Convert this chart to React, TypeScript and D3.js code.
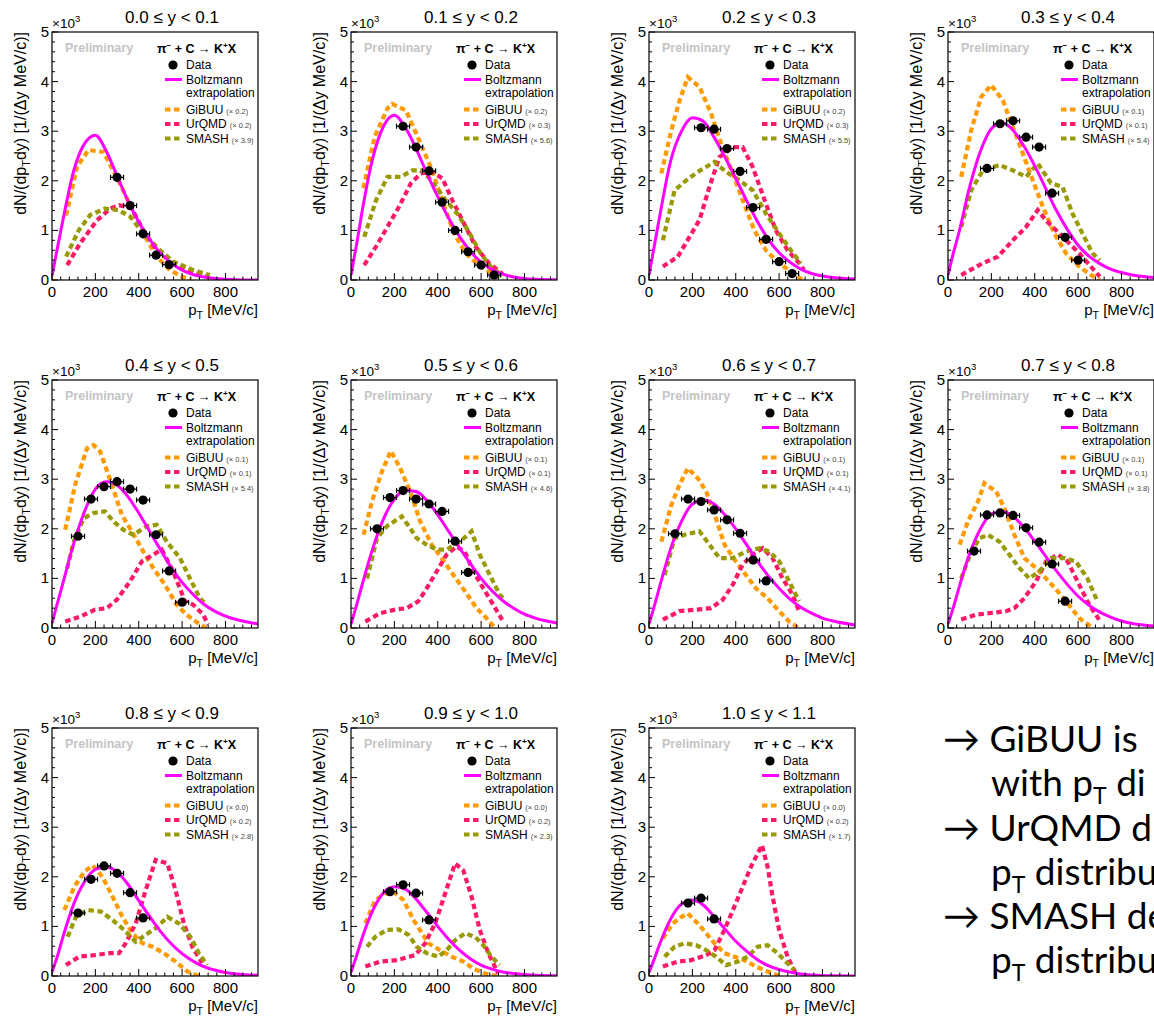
import React from "react";
import * as d3 from "d3";

// ---------------- data ----------------
const RAPIDITY_LABELS = [
  "0.0 ≤ y < 0.1", "0.1 ≤ y < 0.2", "0.2 ≤ y < 0.3", "0.3 ≤ y < 0.4",
  "0.4 ≤ y < 0.5", "0.5 ≤ y < 0.6", "0.6 ≤ y < 0.7", "0.7 ≤ y < 0.8",
  "0.8 ≤ y < 0.9", "0.9 ≤ y < 1.0", "1.0 ≤ y < 1.1",
];
const GIBUU_SCALE = ["0.2", "0.2", "0.2", "0.1", "0.1", "0.1", "0.1", "0.1", "0.0", "0.0", "0.0"];
const URQMD_SCALE = ["0.2", "0.3", "0.3", "0.1", "0.1", "0.1", "0.1", "0.1", "0.2", "0.2", "0.2"];
const SMASH_SCALE = ["3.9", "5.6", "5.5", "5.4", "5.4", "4.6", "4.1", "3.8", "2.8", "2.3", "1.7"];

const X_TICKS = [0, 200, 400, 600, 800];
const Y_TICKS = [0, 1, 2, 3, 4, 5];

const DATA_PT = [
  [300, 360, 420, 480, 540],
  [240, 300, 360, 420, 480, 540, 600, 660],
  [240, 300, 360, 420, 480, 540, 600, 660],
  [180, 240, 300, 360, 420, 480, 540, 600],
  [120, 180, 240, 300, 360, 420, 480, 540, 600],
  [120, 180, 240, 300, 360, 420, 480, 540],
  [120, 180, 240, 300, 360, 420, 480, 540],
  [120, 180, 240, 300, 360, 420, 480, 540],
  [120, 180, 240, 300, 360, 420],
  [180, 240, 300, 360],
  [180, 240, 300],
];
const DATA_VAL = [
  [2.07, 1.5, 0.93, 0.5, 0.31],
  [3.1, 2.68, 2.2, 1.57, 1.0, 0.57, 0.3, 0.1],
  [3.07, 3.04, 2.65, 2.19, 1.46, 0.82, 0.37, 0.13],
  [2.25, 3.15, 3.21, 2.88, 2.68, 1.75, 0.86, 0.4],
  [1.85, 2.6, 2.85, 2.95, 2.8, 2.58, 1.88, 1.15, 0.52],
  [2.0, 2.63, 2.77, 2.6, 2.5, 2.35, 1.75, 1.12],
  [1.9, 2.6, 2.55, 2.38, 2.18, 1.91, 1.37, 0.95],
  [1.55, 2.28, 2.32, 2.27, 2.02, 1.73, 1.29, 0.54],
  [1.27, 1.95, 2.22, 2.07, 1.68, 1.17],
  [1.7, 1.84, 1.67, 1.13],
  [1.47, 1.57, 1.15],
];

const BOLTZ_PT = [0, 25, 50, 100, 150, 200, 250, 300, 350, 400, 450, 500, 550, 600, 650, 700, 750, 800, 850, 950];
const BOLTZ_VAL = [
  [0.08, 0.65, 1.2, 2.2, 2.75, 2.92, 2.6, 2.1, 1.6, 1.17, 0.82, 0.54, 0.34, 0.2, 0.11, 0.06, 0.03, 0.015, 0.007, 0.002],
  [0.1, 0.7, 1.35, 2.45, 3.1, 3.32, 3.08, 2.65, 2.15, 1.68, 1.25, 0.88, 0.58, 0.36, 0.21, 0.12, 0.06, 0.03, 0.015, 0.004],
  [0.1, 0.7, 1.3, 2.4, 3.0, 3.27, 3.2, 2.88, 2.48, 2.05, 1.6, 1.18, 0.82, 0.55, 0.36, 0.22, 0.13, 0.08, 0.05, 0.02],
  [0.1, 0.55, 0.95, 1.88, 2.6, 3.05, 3.17, 3.02, 2.7, 2.3, 1.85, 1.4, 1.02, 0.7, 0.48, 0.33, 0.22, 0.15, 0.1, 0.05],
  [0.1, 0.5, 0.9, 1.7, 2.35, 2.8, 2.95, 2.88, 2.65, 2.32, 1.95, 1.58, 1.22, 0.92, 0.68, 0.48, 0.34, 0.24, 0.17, 0.08],
  [0.08, 0.45, 0.85, 1.6, 2.2, 2.6, 2.77, 2.75, 2.57, 2.28, 1.95, 1.62, 1.3, 1.0, 0.75, 0.55, 0.4, 0.28, 0.2, 0.1],
  [0.08, 0.45, 0.85, 1.6, 2.15, 2.5, 2.58, 2.5, 2.28, 2.0, 1.68, 1.35, 1.05, 0.8, 0.58, 0.42, 0.3, 0.2, 0.14, 0.06],
  [0.08, 0.42, 0.8, 1.5, 2.0, 2.3, 2.35, 2.25, 2.03, 1.75, 1.45, 1.15, 0.88, 0.64, 0.46, 0.32, 0.22, 0.14, 0.09, 0.04],
  [0.08, 0.4, 0.78, 1.45, 1.9, 2.15, 2.2, 2.1, 1.85, 1.52, 1.2, 0.9, 0.65, 0.45, 0.3, 0.19, 0.12, 0.07, 0.04, 0.015],
  [0.08, 0.4, 0.75, 1.32, 1.68, 1.8, 1.75, 1.55, 1.28, 1.0, 0.74, 0.52, 0.35, 0.22, 0.14, 0.08, 0.05, 0.03, 0.015, 0.005],
  [0.07, 0.35, 0.65, 1.15, 1.45, 1.53, 1.43, 1.2, 0.95, 0.7, 0.5, 0.33, 0.21, 0.13, 0.08, 0.04, 0.02, 0.01, 0.005, 0.002],
];

const GIBUU_CURVES = [
  [[65, 1.3], [115, 2.28], [168, 2.62], [237, 2.58], [306, 2.01], [360, 1.51], [421, 0.94], [483, 0.47], [544, 0.2], [597, 0.07], [640, 0.01]],
  [[57, 1.85], [110, 2.9], [168, 3.46], [190, 3.55], [253, 3.42], [314, 2.82], [375, 2.2], [421, 1.6], [475, 0.94], [529, 0.54], [597, 0.27], [666, 0.1], [700, 0]],
  [[57, 2.15], [103, 3.02], [141, 3.62], [179, 4.09], [233, 3.89], [286, 3.36], [332, 2.75], [386, 2.15], [432, 1.61], [486, 1.0], [539, 0.6], [600, 0.34], [654, 0.17], [708, 0]],
  [[61, 2.08], [107, 3.02], [153, 3.69], [199, 3.93], [253, 3.62], [299, 3.09], [345, 2.55], [391, 2.01], [437, 1.48], [490, 0.94], [544, 0.54], [605, 0.27], [659, 0.1], [700, 0]],
  [[61, 1.98], [107, 2.89], [161, 3.62], [191, 3.69], [222, 3.56], [276, 2.89], [322, 2.28], [368, 1.95], [421, 1.54], [467, 1.21], [521, 0.87], [575, 0.47], [620, 0.27], [682, 0.07], [712, 0]],
  [[58, 1.88], [97, 2.55], [142, 3.15], [184, 3.57], [227, 3.22], [273, 2.75], [319, 2.15], [372, 1.68], [418, 1.41], [472, 1.07], [526, 0.74], [579, 0.4], [625, 0.2], [660, 0.02]],
  [[57, 1.74], [103, 2.48], [141, 2.89], [179, 3.22], [225, 3.02], [264, 2.75], [309, 2.21], [348, 1.68], [401, 1.34], [447, 1.07], [493, 0.8], [547, 0.6], [600, 0.34], [646, 0.13], [692, 0]],
  [[54, 1.68], [92, 2.15], [138, 2.55], [168, 2.92], [222, 2.75], [260, 2.42], [306, 1.88], [352, 1.41], [406, 1.21], [452, 1.0], [506, 0.74], [552, 0.5], [605, 0.2], [666, 0.01]],
  [[57, 1.33], [103, 1.8], [149, 2.1], [187, 2.23], [233, 2.0], [279, 1.6], [325, 1.19], [371, 0.86], [417, 0.66], [463, 0.59], [516, 0.46], [570, 0.29], [624, 0.09], [677, 0]],
  [[66, 1.06], [112, 1.53], [158, 1.66], [196, 1.7], [242, 1.53], [288, 1.13], [357, 0.66], [411, 0.52], [464, 0.39], [518, 0.29], [564, 0.15], [617, 0.05], [671, 0]],
  [[64, 0.76], [110, 1.06], [149, 1.19], [179, 1.26], [225, 1.06], [264, 0.86], [302, 0.66], [348, 0.46], [394, 0.39], [440, 0.32], [493, 0.19], [547, 0.09], [600, 0]],
];
const URQMD_CURVES = [
  [[70, 0.3], [130, 0.74], [207, 1.2], [268, 1.44], [310, 1.51], [368, 1.44], [421, 1.0], [483, 0.6], [544, 0.4], [620, 0.2], [712, 0.07]],
  [[61, 0.3], [115, 0.67], [168, 1.07], [222, 1.48], [276, 1.95], [322, 2.15], [375, 2.18], [421, 2.05], [467, 1.61], [529, 1.07], [575, 0.67], [636, 0.34], [700, 0.12]],
  [[64, 0.27], [133, 0.47], [187, 0.87], [233, 1.21], [279, 1.88], [325, 2.48], [386, 2.68], [432, 2.68], [478, 2.28], [539, 1.54], [585, 1.0], [639, 0.6], [692, 0.34], [715, 0.2]],
  [[61, 0.1], [161, 0.34], [230, 0.47], [299, 0.8], [360, 1.07], [414, 1.41], [452, 1.2], [513, 0.94], [559, 0.74], [605, 0.54], [659, 0.27], [700, 0.07]],
  [[61, 0.13], [130, 0.23], [199, 0.37], [253, 0.4], [299, 0.57], [360, 0.94], [414, 1.34], [467, 1.48], [506, 1.58], [559, 1.14], [613, 0.54], [651, 0.47], [697, 0.27], [720, 0.07]],
  [[66, 0.13], [135, 0.3], [204, 0.37], [257, 0.4], [311, 0.54], [349, 0.8], [395, 1.14], [441, 1.48], [487, 1.64], [525, 1.54], [564, 1.14], [610, 0.8], [656, 0.47], [702, 0.13]],
  [[64, 0.17], [141, 0.34], [218, 0.37], [286, 0.4], [340, 0.57], [386, 0.87], [432, 1.28], [478, 1.48], [524, 1.61], [570, 1.41], [616, 1.0], [662, 0.67], [692, 0.34]],
  [[61, 0.17], [130, 0.27], [191, 0.3], [268, 0.34], [306, 0.4], [352, 0.6], [406, 0.94], [452, 1.34], [506, 1.48], [552, 1.34], [605, 0.87], [651, 0.47], [697, 0.17]],
  [[64, 0.22], [126, 0.39], [195, 0.42], [264, 0.46], [309, 0.46], [340, 0.66], [386, 1.06], [432, 1.73], [478, 2.34], [532, 2.27], [570, 1.73], [608, 1.06], [647, 0.59], [692, 0.26]],
  [[66, 0.19], [135, 0.29], [211, 0.32], [296, 0.42], [342, 0.66], [388, 1.06], [434, 1.66], [480, 2.27], [518, 2.13], [556, 1.6], [594, 0.93], [633, 0.46], [679, 0.05]],
  [[64, 0.19], [133, 0.29], [195, 0.32], [264, 0.42], [302, 0.52], [348, 0.93], [394, 1.4], [432, 1.8], [470, 2.2], [521, 2.64], [547, 2.2], [570, 1.6], [600, 0.93], [639, 0.39], [677, 0.05]],
];
const SMASH_CURVES = [
  [[65, 0.47], [123, 1.0], [176, 1.31], [245, 1.44], [306, 1.41], [360, 1.28], [421, 0.94], [498, 0.6], [559, 0.37], [651, 0.2], [728, 0.1]],
  [[61, 0.87], [115, 1.6], [168, 2.08], [230, 2.08], [283, 2.21], [329, 2.21], [375, 1.98], [437, 1.61], [490, 1.34], [544, 0.97], [597, 0.54], [651, 0.23], [700, 0.1]],
  [[64, 0.8], [118, 1.81], [172, 2.01], [233, 2.2], [302, 2.38], [355, 2.18], [417, 2.01], [478, 1.81], [539, 1.34], [600, 0.94], [654, 0.6], [700, 0.34]],
  [[61, 1.07], [107, 1.81], [161, 2.21], [237, 2.32], [299, 2.21], [360, 2.08], [414, 2.35], [475, 1.95], [528, 1.88], [574, 1.34], [620, 0.94], [666, 0.54], [700, 0.4]],
  [[70, 1.2], [100, 1.74], [146, 2.21], [191, 2.32], [245, 2.35], [283, 2.15], [329, 1.98], [375, 1.88], [437, 2.05], [483, 2.08], [529, 1.74], [590, 1.41], [636, 1.0], [682, 0.6], [705, 0.5]],
  [[74, 1.0], [120, 1.81], [165, 2.05], [234, 2.25], [273, 2.01], [303, 1.81], [349, 1.68], [395, 1.58], [441, 1.58], [503, 1.74], [556, 1.95], [594, 1.48], [640, 1.07], [686, 0.67], [702, 0.6]],
  [[72, 1.07], [118, 1.81], [164, 1.88], [233, 1.95], [279, 1.68], [325, 1.41], [386, 1.41], [447, 1.54], [509, 1.61], [555, 1.54], [601, 1.34], [646, 0.94], [692, 0.54]],
  [[61, 1.0], [107, 1.54], [146, 1.81], [184, 1.88], [237, 1.74], [283, 1.48], [329, 1.21], [375, 1.0], [421, 1.14], [475, 1.41], [536, 1.41], [590, 1.34], [643, 1.0], [689, 0.54]],
  [[72, 0.79], [110, 1.19], [164, 1.33], [225, 1.3], [279, 1.13], [332, 0.93], [386, 0.69], [432, 0.83], [486, 0.99], [532, 1.19], [585, 1.06], [639, 0.79], [677, 0.46], [715, 0.22]],
  [[74, 0.59], [112, 0.79], [165, 0.93], [219, 0.94], [265, 0.83], [303, 0.59], [349, 0.46], [403, 0.39], [441, 0.52], [480, 0.72], [526, 0.86], [572, 0.79], [610, 0.62], [648, 0.39], [686, 0.22]],
  [[72, 0.39], [118, 0.59], [164, 0.66], [218, 0.62], [264, 0.52], [309, 0.39], [355, 0.22], [409, 0.29], [455, 0.39], [501, 0.59], [547, 0.62], [593, 0.46], [631, 0.29], [669, 0.12]],
];

const NOTE_LINES: [string, boolean][][] = [
  [["→ GiBUU is", false]],
  [["with p", false], ["T", true], [" di", false]],
  [["→ UrQMD d", false]],
  [["p", false], ["T", true], [" distribu", false]],
  [["→ SMASH de", false]],
  [["p", false], ["T", true], [" distribu", false]],
];

// ---------------- layout / style ----------------
const W = 1154, H = 1020;
const COL_X = [52, 351, 649, 948];
const ROW_Y = [32, 380, 728];
const PW = 206, PH = 248;
const X_DOMAIN = [0, 950];
const Y_DOMAIN = [0, 5];
const FONT = "'Liberation Sans', Arial, Helvetica, sans-serif";
const C_GIBUU = "#ff9a00";
const C_URQMD = "#ff1a66";
const C_SMASH = "#999900";
const C_BOLTZ = "#ff00ff";
const DASH = "5.5 3.5";

type Pt = [number, number];

function Panel({ i }: { i: number }) {
  const col = i % 4;
  const row = Math.floor(i / 4);
  const L = COL_X[col];
  const T = ROW_Y[row];
  const B = T + PH;
  const x = d3.scaleLinear().domain(X_DOMAIN).range([L, L + PW]);
  const y = d3.scaleLinear().domain(Y_DOMAIN).range([B, T]);
  const lin = d3.line<Pt>().x((d) => x(d[0])).y((d) => y(d[1]));
  const smooth = d3.line<Pt>().x((d) => x(d[0])).y((d) => y(d[1])).curve(d3.curveMonotoneX);
  const boltz: Pt[] = BOLTZ_PT.map((p, k) => [p, BOLTZ_VAL[i][k]]);
  const clipId = `clip-${i}`;
  const xMinor = d3.range(0, 951, 40).filter((v) => v % 200 !== 0);
  const yMinor = d3.range(0, 5.0001, 0.2).filter((v) => Math.abs(v - Math.round(v)) > 1e-6);
  const models: [Pt[][], string][] = [
    [GIBUU_CURVES as Pt[][], C_GIBUU],
    [URQMD_CURVES as Pt[][], C_URQMD],
    [SMASH_CURVES as Pt[][], C_SMASH],
  ];
  const legendRows: [string, string, string, number][] = [
    ["GiBUU", GIBUU_SCALE[i], C_GIBUU, 77.5],
    ["UrQMD", URQMD_SCALE[i], C_URQMD, 92],
    ["SMASH", SMASH_SCALE[i], C_SMASH, 106.5],
  ];
  const lx = L + 113;
  return (
    <g>
      <defs>
        <clipPath id={clipId}>
          <rect x={L} y={T} width={PW} height={PH} />
        </clipPath>
      </defs>
      {/* title */}
      <text x={L + PW / 2 + 17} y={T - 9} fontSize={17} textAnchor="middle">
        {RAPIDITY_LABELS[i]}
      </text>
      <text x={L} y={T - 4} fontSize={13.5}>
        ×10<tspan dy={-6} fontSize={9.5}>3</tspan>
      </text>
      {/* y axis title */}
      <text
        transform={`translate(${L - 26},${T}) rotate(-90)`}
        fontSize={16}
        textAnchor="end"
      >
        dN/(dp<tspan dy={4} fontSize={11}>T</tspan>
        <tspan dy={-4}>dy) [1/(Δy MeV/c)]</tspan>
      </text>
      {/* x axis title */}
      <text x={L + PW} y={B + 35} fontSize={15} textAnchor="end">
        p<tspan dy={4} fontSize={10.5}>T</tspan>
        <tspan dy={-4}> [MeV/c]</tspan>
      </text>
      {/* curves */}
      <g clipPath={`url(#${clipId})`}>
        {models.map(([arr, c], m) => (
          <path
            key={m}
            d={lin(arr[i]) || ""}
            fill="none"
            stroke={c}
            strokeWidth={4.2}
            strokeDasharray={DASH}
          />
        ))}
        <path d={smooth(boltz) || ""} fill="none" stroke={C_BOLTZ} strokeWidth={3} />
      </g>
      {/* data */}
      {DATA_PT[i].map((p, k) => {
        const cx = x(p);
        const cy = y(DATA_VAL[i][k]);
        const x0 = x(p - 30);
        const x1 = x(p + 30);
        return (
          <g key={k}>
            <line x1={x0} x2={x1} y1={cy} y2={cy} stroke="#000" strokeWidth={1.2} />
            <line x1={x0} x2={x0} y1={cy - 2.5} y2={cy + 2.5} stroke="#000" strokeWidth={1.2} />
            <line x1={x1} x2={x1} y1={cy - 2.5} y2={cy + 2.5} stroke="#000" strokeWidth={1.2} />
            <circle cx={cx} cy={cy} r={4.6} fill="#000" />
          </g>
        );
      })}
      {/* frame */}
      <rect x={L} y={T} width={PW} height={PH} fill="none" stroke="#000" strokeWidth={1.2} />
      {/* x ticks */}
      {X_TICKS.map((v) => (
        <g key={`xt${v}`}>
          <line x1={x(v)} x2={x(v)} y1={B} y2={B - 7} stroke="#000" strokeWidth={1} />
          <text x={x(v)} y={B + 17} fontSize={15} textAnchor="middle">
            {v}
          </text>
        </g>
      ))}
      {xMinor.map((v) => (
        <line key={`xm${v}`} x1={x(v)} x2={x(v)} y1={B} y2={B - 3.5} stroke="#000" strokeWidth={1} />
      ))}
      {/* y ticks */}
      {Y_TICKS.map((v) => (
        <g key={`yt${v}`}>
          <line x1={L} x2={L + 6} y1={y(v)} y2={y(v)} stroke="#000" strokeWidth={1} />
          <text x={L - 3} y={y(v) + 5} fontSize={15} textAnchor="end">
            {v}
          </text>
        </g>
      ))}
      {yMinor.map((v) => (
        <line key={`ym${v.toFixed(1)}`} x1={L} x2={L + 3} y1={y(v)} y2={y(v)} stroke="#000" strokeWidth={1} />
      ))}
      {/* legend */}
      <text x={L + 13} y={T + 20} fontSize={12.5} fontWeight="bold" fill="#c4c4c4">
        Preliminary
      </text>
      <text x={L + 105} y={T + 20.5} fontSize={12.5} fontWeight="bold">
        π<tspan dy={-5} fontSize={8}>−</tspan>
        <tspan dy={5}> + C  → K</tspan>
        <tspan dy={-5} fontSize={8}>+</tspan>
        <tspan dy={5}>X</tspan>
      </text>
      <circle cx={L + 121} cy={T + 33} r={4.6} fill="#000" />
      <text x={L + 134} y={T + 37} fontSize={12}>Data</text>
      <line x1={lx} x2={lx + 17} y1={T + 47.5} y2={T + 47.5} stroke={C_BOLTZ} strokeWidth={3} />
      <text x={L + 134} y={T + 51.5} fontSize={12}>Boltzmann</text>
      <text x={L + 134} y={T + 65} fontSize={12}>extrapolation</text>
      {legendRows.map(([name, sc, c, dy]) => (
        <g key={name}>
          <line
            x1={lx}
            x2={lx + 17}
            y1={T + dy}
            y2={T + dy}
            stroke={c}
            strokeWidth={4.2}
            strokeDasharray={DASH}
          />
          <text x={L + 134} y={T + dy + 4} fontSize={12}>
            {name}
            <tspan fontSize={7.5} fill="#444" dx={3}>
              (× {sc})
            </tspan>
          </text>
        </g>
      ))}
    </g>
  );
}

function Notes() {
  const baselines = [752, 796, 841, 885, 929, 973];
  return (
    <g fontFamily="Lato, 'Open Sans', sans-serif" fontSize={37} fill="#000">
      {NOTE_LINES.map((parts, k) => {
        const startX = parts[0][0].startsWith("→") ? 943 : 991;
        return (
          <text key={k} x={startX} y={baselines[k]}>
            {parts.map(([t, sub], j) =>
              sub ? (
                <tspan key={j} dy={8} fontSize={23}>
                  {t}
                </tspan>
              ) : (
                <tspan key={j} dy={j > 0 && parts[j - 1][1] ? -8 : 0}>
                  {t}
                </tspan>
              )
            )}
          </text>
        );
      })}
    </g>
  );
}

export default function App() {
  return (
    <svg
      width={W}
      height={H}
      style={{ position: "absolute", left: 0, top: 0, background: "#fff", overflow: "hidden" }}
      fontFamily={FONT}
    >
      <rect width={W} height={H} fill="#fff" />
      {RAPIDITY_LABELS.map((_, i) => (
        <Panel key={i} i={i} />
      ))}
      <Notes />
    </svg>
  );
}
